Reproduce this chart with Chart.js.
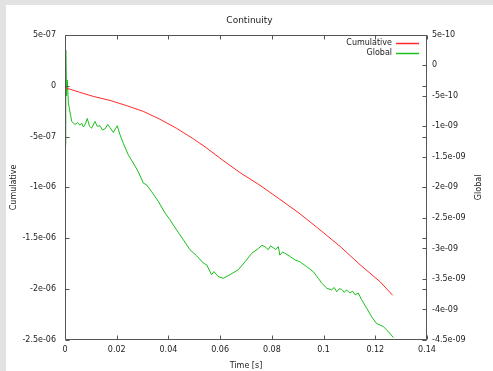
<!DOCTYPE html>
<html>
<head>
<meta charset="utf-8">
<title>Continuity</title>
<script src="https://cdn.jsdelivr.net/npm/chart.js@4.4.1/dist/chart.umd.min.js"></script>
<style>
  html, body { margin: 0; padding: 0; }
  body { width: 493px; height: 371px; background: #e2e2e2; overflow: hidden; position: relative; }
  #frame { position: absolute; left: 6px; top: 5px; width: 487px; height: 366px; background: #fff; }
</style>
</head>
<body>
<div id="frame"><canvas id="chart" width="487" height="366"></canvas></div>
<script>
// values
const cumulativeTime = [0, 0.0058, 0.0109, 0.0174, 0.0239, 0.0303, 0.0367, 0.0432, 0.0496, 0.0548, 0.0599,
  0.0677, 0.0754, 0.0831, 0.0909, 0.0986, 0.1064, 0.1141, 0.1218, 0.1267];
const cumulativeValues = [-0.2e-7, -0.66e-7, -1.05e-7, -1.45e-7, -1.97e-7, -2.53e-7, -3.3e-7, -4.2e-7,
  -5.22e-7, -6.13e-7, -7.12e-7, -8.55e-7, -9.79e-7, -1.117e-6, -1.26e-6, -1.417e-6, -1.58e-6, -1.76e-6,
  -1.926e-6, -2.06e-6];

const globalTime = [0, 0.0003, 0.0006, 0.0009, 0.0013, 0.0026, 0.0039, 0.0048, 0.0058, 0.0065, 0.0071, 0.0079,
  0.0086, 0.0095, 0.0103, 0.0116, 0.0125, 0.0135, 0.0145, 0.0155, 0.0165, 0.0174, 0.0187, 0.0202, 0.0213,
  0.0226, 0.0245, 0.0264, 0.0283, 0.0303, 0.0316, 0.0335, 0.0361, 0.0387, 0.0406, 0.0432, 0.0458, 0.0483,
  0.0509, 0.0535, 0.0548, 0.0567, 0.0576, 0.0593, 0.0612, 0.0638, 0.067, 0.0696, 0.0722, 0.0748, 0.0762,
  0.0773, 0.0786, 0.0795, 0.0806, 0.0815, 0.0825, 0.0831, 0.0841, 0.0851, 0.087, 0.089, 0.0909, 0.0935,
  0.096, 0.098, 0.0993, 0.1012, 0.1031, 0.1041, 0.1051, 0.1061, 0.107, 0.108, 0.1089, 0.1102, 0.1112,
  0.1122, 0.1134, 0.1147, 0.1167, 0.1186, 0.1205, 0.1231, 0.125, 0.127];
const globalValues = [-1.3e-9, 0.25e-9, -0.5e-9, -0.24e-9, -0.62e-9, -0.92e-9, -0.97e-9, -0.94e-9, -0.98e-9,
  -0.95e-9, -1.01e-9, -0.96e-9, -0.87e-9, -1.0e-9, -1.03e-9, -0.92e-9, -1.0e-9, -0.99e-9, -1.06e-9, -1.04e-9,
  -0.97e-9, -1.02e-9, -1.1e-9, -0.99e-9, -1.14e-9, -1.28e-9, -1.47e-9, -1.6e-9, -1.74e-9, -1.93e-9, -1.96e-9,
  -2.07e-9, -2.23e-9, -2.42e-9, -2.53e-9, -2.7e-9, -2.86e-9, -3.02e-9, -3.12e-9, -3.24e-9, -3.27e-9, -3.43e-9,
  -3.38e-9, -3.46e-9, -3.49e-9, -3.43e-9, -3.35e-9, -3.22e-9, -3.08e-9, -3.0e-9, -2.95e-9, -2.97e-9, -3.02e-9,
  -2.96e-9, -2.99e-9, -3.02e-9, -2.97e-9, -3.11e-9, -3.06e-9, -3.08e-9, -3.13e-9, -3.19e-9, -3.22e-9,
  -3.3e-9, -3.38e-9, -3.49e-9, -3.57e-9, -3.65e-9, -3.68e-9, -3.64e-9, -3.71e-9, -3.66e-9, -3.67e-9, -3.72e-9,
  -3.68e-9, -3.73e-9, -3.7e-9, -3.76e-9, -3.73e-9, -3.84e-9, -3.98e-9, -4.12e-9, -4.23e-9, -4.28e-9, -4.36e-9,
  -4.46e-9];

const xTicks = [0, 0.02, 0.04, 0.06, 0.08, 0.1, 0.12, 0.14];
const xTickLabels = ['0', '0.02', '0.04', '0.06', '0.08', '0.1', '0.12', '0.14'];
const yTicks = [5e-7, 0, -5e-7, -1e-6, -1.5e-6, -2e-6, -2.5e-6];
const yTickLabels = ['5e-07', '0', '-5e-07', '-1e-06', '-1.5e-06', '-2e-06', '-2.5e-06'];
const y2Ticks = [5e-10, 0, -5e-10, -1e-9, -1.5e-9, -2e-9, -2.5e-9, -3e-9, -3.5e-9, -4e-9, -4.5e-9];
const y2TickLabels = ['5e-10', '0', '-5e-10', '-1e-09', '-1.5e-09', '-2e-09', '-2.5e-09', '-3e-09',
  '-3.5e-09', '-4e-09', '-4.5e-09'];

const textColor = '#222';
const frameColor = '#555';
const cumulativeColor = '#ff2a2a';
const globalColor = '#18c018';
const fontFamily = "'DejaVu Sans', sans-serif";

function toPoints(xs, ys) {
  return xs.map(function (x, i) { return { x: x, y: ys[i] }; });
}

function fixedTicks(values) {
  return function (scale) {
    scale.ticks = values.map(function (v) { return { value: v }; });
  };
}

// frame, inward tick marks, legend inside the plot and the right axis title
const gnuplotFrame = {
  id: 'gnuplotFrame',
  afterDatasetsDraw(chart) {
    const ctx = chart.ctx;
    const a = chart.chartArea;
    const s = chart.scales;
    const tl = 4;
    const L = Math.round(a.left) + 0.5, R = Math.round(a.right) - 0.5;
    const T = Math.round(a.top) + 0.5, B = Math.round(a.bottom) - 0.5;

    ctx.save();
    ctx.strokeStyle = frameColor;
    ctx.lineWidth = 1;
    ctx.beginPath();
    ctx.rect(L, T, R - L, B - T);
    xTicks.forEach(function (v) {
      const px = Math.round(s.x.getPixelForValue(v)) + 0.5;
      ctx.moveTo(px, B); ctx.lineTo(px, B - tl);
      ctx.moveTo(px, T); ctx.lineTo(px, T + tl);
    });
    yTicks.forEach(function (v) {
      const py = Math.round(s.y.getPixelForValue(v)) + 0.5;
      ctx.moveTo(L, py); ctx.lineTo(L + tl, py);
      ctx.moveTo(R, py); ctx.lineTo(R - tl, py);
    });
    y2Ticks.forEach(function (v) {
      const py = Math.round(s.y2.getPixelForValue(v)) + 0.5;
      ctx.moveTo(R, py); ctx.lineTo(R - tl, py);
    });
    ctx.stroke();

    ctx.font = '8px ' + fontFamily;
    ctx.fillStyle = textColor;
    ctx.textBaseline = 'middle';
    const legendColors = [cumulativeColor, globalColor];
    chart.data.datasets.forEach(function (ds, i) {
      const y = Math.round(a.top + 8 + i * 9.7);
      ctx.textAlign = 'right';
      ctx.fillText(ds.label, a.right - 35, y);
      ctx.strokeStyle = legendColors[i];
      ctx.lineWidth = 1.5;
      ctx.beginPath();
      ctx.moveTo(a.right - 31, y + 0.5);
      ctx.lineTo(a.right - 8, y + 0.5);
      ctx.stroke();
    });

    ctx.translate(472.5, (a.top + a.bottom) / 2);
    ctx.rotate(-Math.PI / 2);
    ctx.textAlign = 'center';
    ctx.fillText('Global', 0, 0);
    ctx.restore();
  }
};

const chart = new Chart(document.getElementById('chart'), {
  type: 'line',
  data: {
    datasets: [{
      label: 'Cumulative',
      data: toPoints(cumulativeTime, cumulativeValues),
      yAxisID: 'y',
      borderColor: cumulativeColor,
      borderWidth: 1,
      pointRadius: 0,
      tension: 0
    }, {
      label: 'Global',
      data: toPoints(globalTime, globalValues),
      yAxisID: 'y2',
      borderColor: globalColor,
      borderWidth: 1,
      pointRadius: 0,
      tension: 0
    }]
  },
  options: {
    responsive: false,
    animation: false,
    layout: { padding: 0 },
    plugins: {
      legend: { display: false },
      tooltip: { enabled: false },
      title: {
        display: true,
        text: 'Continuity',
        color: textColor,
        font: { family: fontFamily, size: 9, weight: 'normal' },
        padding: { top: 10, bottom: 9 }
      }
    },
    scales: {
      x: {
        type: 'linear',
        min: 0,
        max: 0.14,
        afterBuildTicks: fixedTicks(xTicks),
        afterFit: function (scale) { scale.height = 31; },
        grid: { display: false, drawTicks: false },
        border: { display: false },
        ticks: {
          autoSkip: false,
          maxRotation: 0,
          padding: 5,
          color: textColor,
          font: { family: fontFamily, size: 8 },
          callback: function (value, index) { return xTickLabels[index]; }
        },
        title: {
          display: true,
          text: 'Time [s]',
          color: textColor,
          font: { family: fontFamily, size: 8 },
          padding: 0
        }
      },
      y: {
        position: 'left',
        min: -2.5e-6,
        max: 5e-7,
        afterBuildTicks: fixedTicks(yTicks),
        afterFit: function (scale) { scale.width = 59; },
        grid: { display: false, drawTicks: false },
        border: { display: false },
        ticks: {
          autoSkip: false,
          padding: 9,
          color: textColor,
          font: { family: fontFamily, size: 8 },
          callback: function (value, index) { return yTickLabels[index]; }
        },
        title: {
          display: true,
          text: 'Cumulative',
          color: textColor,
          font: { family: fontFamily, size: 8 },
          padding: { top: 3, bottom: 0 }
        }
      },
      y2: {
        position: 'right',
        min: -4.5e-9,
        max: 5e-10,
        afterBuildTicks: fixedTicks(y2Ticks),
        afterFit: function (scale) { scale.width = 66; },
        grid: { display: false, drawTicks: false },
        border: { display: false },
        ticks: {
          autoSkip: false,
          padding: 5,
          color: textColor,
          font: { family: fontFamily, size: 8 },
          callback: function (value, index) { return y2TickLabels[index]; }
        }
      }
    }
  },
  plugins: [gnuplotFrame]
});
</script>
</body>
</html>
